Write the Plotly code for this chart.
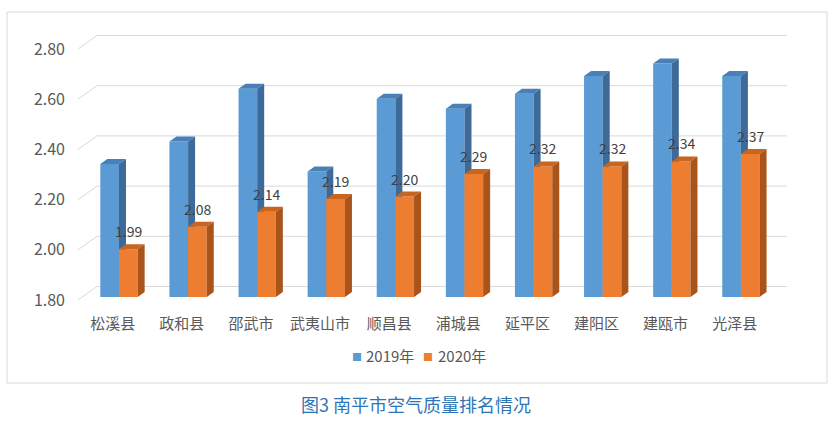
import plotly.graph_objects as go

categories = ["松溪县", "政和县", "邵武市", "武夷山市", "顺昌县", "浦城县", "延平区", "建阳区", "建瓯市", "光泽县"]
values_2019 = [2.33, 2.42, 2.63, 2.30, 2.59, 2.55, 2.61, 2.68, 2.73, 2.68]
values_2020 = [1.99, 2.08, 2.14, 2.19, 2.20, 2.29, 2.32, 2.32, 2.34, 2.37]
series_names = ["2019年", "2020年"]
y_ticks = [1.80, 2.00, 2.20, 2.40, 2.60, 2.80]
title_text = "图3 南平市空气质量排名情况"

FONT = "Noto Sans CJK SC, Noto Sans, sans-serif"
BASE = 1.80

# layout geometry (pixels)
PL, PR, PT, PB = 78, 787, 30, 305
W, H = 840, 422
yscale = 251.0                      # px per unit on the front plane
yr = [BASE - (PB - 300) / yscale, 2.80 + (49 - PT) / yscale]
xr = [-0.593, 9.667]
xscale = (PR - PL) / (xr[1] - xr[0])

bw = 0.27              # bar front width (data units)
ddx = 7 / xscale       # bar depth offset
ddy = 5 / yscale
boff = 3 / yscale      # bars sit slightly behind the front floor edge
wdx = 19 / xscale      # wall depth offset
wdy = 13.5 / yscale

def px(x):
    return (x - PL) / (PR - PL)

def py(y):
    return (PB - y) / (PB - PT)

fig = go.Figure()

# back-wall gridlines with slanted side-wall segments
gx, gy = [], []
for t in y_ticks:
    gx += [xr[0], xr[0] + wdx, xr[1], None]
    gy += [t, t + wdy, t + wdy, None]
fig.add_trace(go.Scatter(x=gx, y=gy, mode="lines", line=dict(color="#d9d9d9", width=1),
                         hoverinfo="skip", showlegend=False))

def faces(vals, x_left):
    fx, fy, tx, ty, sx, sy = [], [], [], [], [], []
    b = BASE + boff
    for i, v in enumerate(vals):
        v = v + boff
        x0 = i + x_left
        x1 = x0 + bw
        fx += [x0, x1, x1, x0, x0, None]
        fy += [b, b, v, v, b, None]
        tx += [x0, x1, x1 + ddx, x0 + ddx, x0, None]
        ty += [v, v, v + ddy, v + ddy, v, None]
        sx += [x1, x1 + ddx, x1 + ddx, x1, x1, None]
        sy += [b, b + ddy, v + ddy, v, b, None]
    return (fx, fy), (tx, ty), (sx, sy)

styles = [
    ("#5b9bd5", "#4a80b8", "#3d6a98"),
    ("#ed7d31", "#c8651f", "#a8541a"),
]
for vals, x_left, (cf, ct, cs) in [(values_2019, -bw, styles[0]), (values_2020, 0.0, styles[1])]:
    (fx, fy), (tx, ty), (sx, sy) = faces(vals, x_left)
    for xs, ys, c in [(fx, fy, cf), (tx, ty, ct), (sx, sy, cs)]:
        fig.add_trace(go.Scatter(x=xs, y=ys, mode="lines", fill="toself", fillcolor=c,
                                 line=dict(width=0, color=c), hoverinfo="skip", showlegend=False))

# data labels for 2020
for i, v in enumerate(values_2020):
    fig.add_annotation(x=i + bw / 2, y=v + boff, text=f"{v:.2f}", showarrow=False,
                       yanchor="bottom", yshift=6, font=dict(family=FONT, size=14, color="#404040"))

# legend (drawn as text entries)
legend_pos = [(357, 364), (428, 436)]
for name, c, (sxp, txp) in zip(series_names, [styles[0][0], styles[1][0]], legend_pos):
    fig.add_annotation(xref="paper", yref="paper", x=px(sxp), y=py(356), text="■", showarrow=False,
                       xanchor="center", yanchor="middle", font=dict(family=FONT, size=10, color=c))
    fig.add_annotation(xref="paper", yref="paper", x=px(txp), y=py(355), text=name, showarrow=False,
                       xanchor="left", yanchor="middle", font=dict(family=FONT, size=15, color="#595959"))

# title under the chart box
fig.add_annotation(xref="paper", yref="paper", x=px(416), y=py(404), text=title_text,
                   showarrow=False, xanchor="center", yanchor="middle",
                   font=dict(family=FONT, size=18, color="#2e75b6"))

# outer chart border
fig.add_shape(type="rect", xref="paper", yref="paper", x0=px(7), x1=px(827), y0=py(383), y1=py(12),
              line=dict(color="#d9d9d9", width=1), fillcolor="rgba(0,0,0,0)", layer="below")

fig.update_layout(
    width=W, height=H,
    margin=dict(l=PL, r=W - PR, t=PT, b=H - PB),
    paper_bgcolor="white", plot_bgcolor="white",
    font=dict(family=FONT, color="#595959"),
    showlegend=False,
    xaxis=dict(range=xr, tickmode="array", tickvals=[i - 0.09 for i in range(len(categories))],
               ticktext=categories, showgrid=False, zeroline=False, showline=False, ticks="",
               ticklabelstandoff=8, tickfont=dict(family=FONT, size=15, color="#595959")),
    yaxis=dict(range=yr, tickmode="array", tickvals=y_ticks, ticktext=[f"{t:.2f}" for t in y_ticks],
               showgrid=False, zeroline=False, showline=False, ticks="", ticklabelstandoff=12,
               tickfont=dict(family=FONT, size=16, color="#595959")),
)

fig.write_html("out.html")
